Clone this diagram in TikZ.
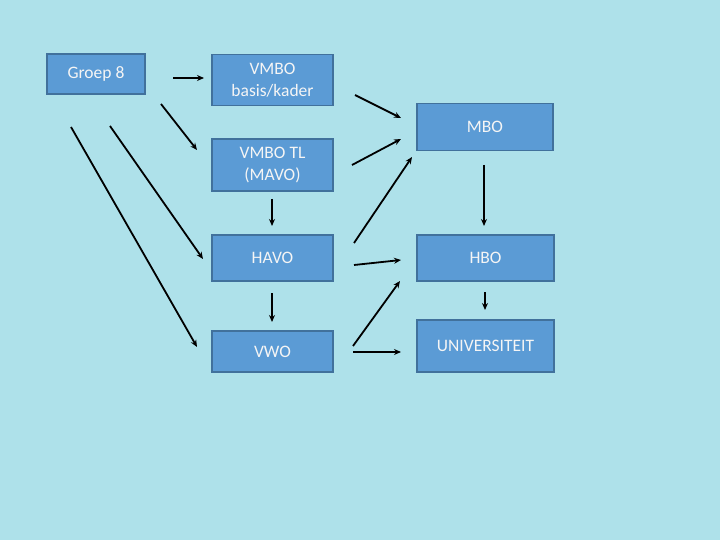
\documentclass[tikz,border=0pt]{standalone}
\usepackage{fontspec}
\setmainfont{Carlito}
\usetikzlibrary{arrows.meta}
\definecolor{bg}{HTML}{AEE1EA}
\definecolor{boxfill}{HTML}{5B9BD5}
\definecolor{boxline}{HTML}{41719C}
\begin{document}
\begin{tikzpicture}[x=1pt,y=-1pt,
  box/.style={draw=boxline,line width=1.6pt,fill=boxfill,text=white!96!black,
    font=\fontsize{17.5}{22}\selectfont,align=center,inner sep=0pt},
  arr/.style={-{Stealth[length=7pt,width=6pt]},line width=1.8pt,black}]
\fill[bg] (0,0) rectangle (720,540);
\useasboundingbox (0,0) rectangle (720,540);
% boxes
\node[box,minimum width=98pt,minimum height=40pt] (g8) at (96,74) {Groep 8};
\node[box,minimum width=121pt,minimum height=51pt] (vbk) at (272.5,80) {VMBO\\basis/kader};
\node[box,minimum width=121pt,minimum height=52pt] (vtl) at (272.5,165) {VMBO TL\\(MAVO)};
\node[box,minimum width=121pt,minimum height=46pt] (havo) at (272.5,258) {HAVO};
\node[box,minimum width=121pt,minimum height=41pt] (vwo) at (272.5,351.5) {VWO};
\node[box,minimum width=136pt,minimum height=47pt] (mbo) at (485,127) {MBO};
\node[box,minimum width=137pt,minimum height=46pt] (hbo) at (485.5,258) {HBO};
\node[box,minimum width=137pt,minimum height=52pt] (uni) at (485.5,346) {UNIVERSITEIT};
% connector end points
\coordinate (a1s) at (173,78);  \coordinate (a1e) at (204,78);
\coordinate (a2s) at (161,104); \coordinate (a2e) at (197,150);
\coordinate (a3s) at (110,126); \coordinate (a3e) at (203,259);
\coordinate (a4s) at (71,127);  \coordinate (a4e) at (197,347);
\coordinate (a5s) at (272,199); \coordinate (a5e) at (272,226);
\coordinate (a6s) at (272,293); \coordinate (a6e) at (272,322);
\coordinate (a7s) at (355,95);  \coordinate (a7e) at (401,118);
\coordinate (a8s) at (352,165); \coordinate (a8e) at (401,139);
\coordinate (a9s) at (354,243); \coordinate (a9e) at (412,157);
\coordinate (a10s) at (354,265); \coordinate (a10e) at (401,260);
\coordinate (a11s) at (353,346); \coordinate (a11e) at (400,281);
\coordinate (a12s) at (353,352); \coordinate (a12e) at (401,352);
\coordinate (a13s) at (484,165); \coordinate (a13e) at (484,226);
\coordinate (a14s) at (485,292); \coordinate (a14e) at (485,310);
% connectors
\draw[arr] (a1s) -- (a1e);
\draw[arr] (a2s) -- (a2e);
\draw[arr] (a3s) -- (a3e);
\draw[arr] (a4s) -- (a4e);
\draw[arr] (a5s) -- (a5e);
\draw[arr] (a6s) -- (a6e);
\draw[arr] (a7s) -- (a7e);
\draw[arr] (a8s) -- (a8e);
\draw[arr] (a9s) -- (a9e);
\draw[arr] (a10s) -- (a10e);
\draw[arr] (a11s) -- (a11e);
\draw[arr] (a12s) -- (a12e);
\draw[arr] (a13s) -- (a13e);
\draw[arr] (a14s) -- (a14e);
\end{tikzpicture}
\end{document}
